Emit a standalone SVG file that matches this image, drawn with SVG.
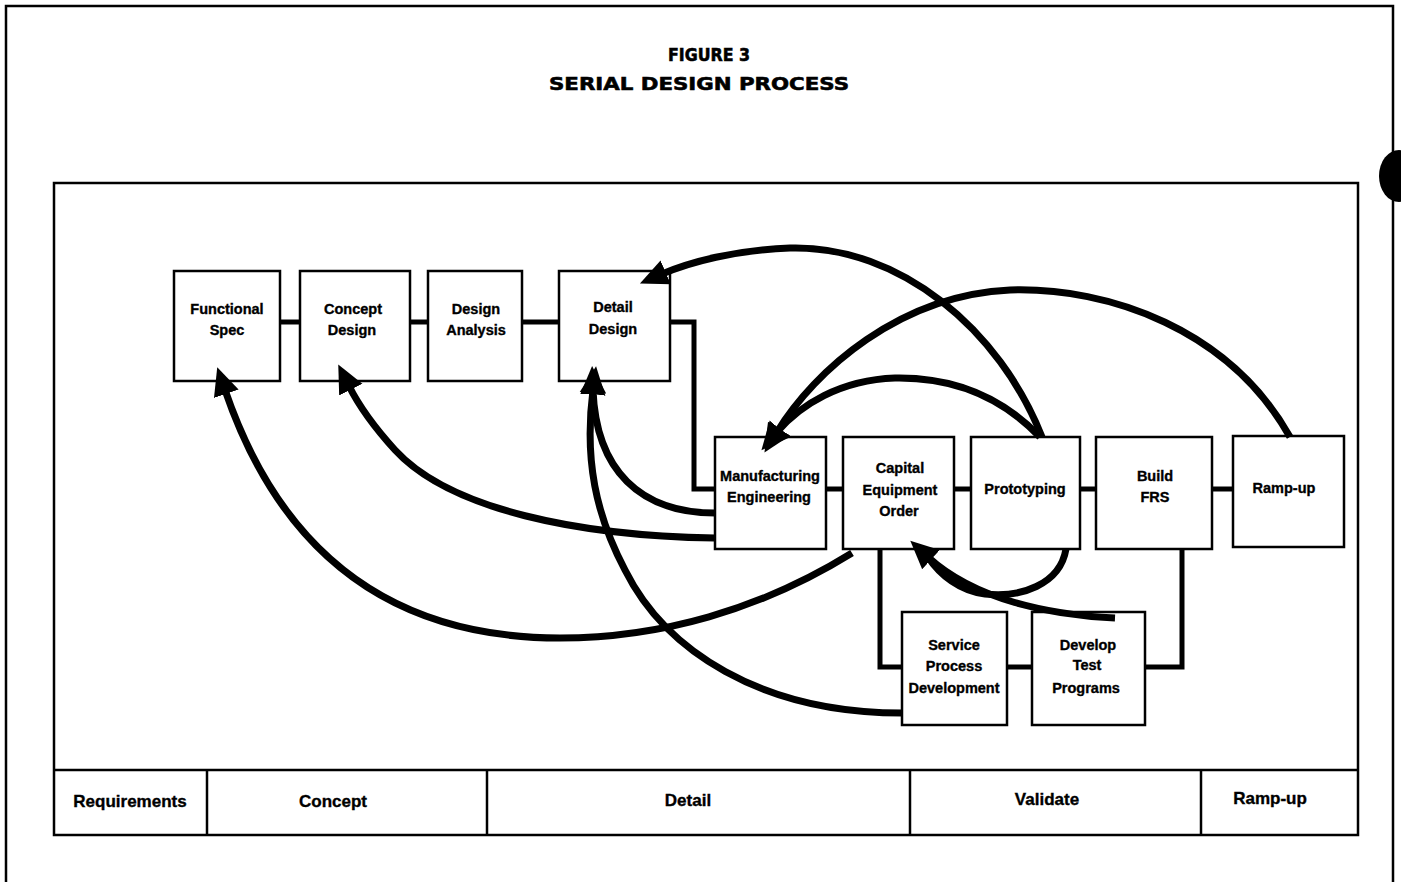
<svg xmlns="http://www.w3.org/2000/svg" width="1401" height="882" viewBox="0 0 1401 882">
<style>
.box{fill:#fff;stroke:#000;stroke-width:2.5}
.lbl{font-family:"Liberation Sans",Arial,sans-serif;font-weight:bold;font-size:14.5px;text-anchor:middle;fill:#000;stroke:#000;stroke-width:0.35}
.ph{font-family:"Liberation Sans",Arial,sans-serif;font-weight:bold;font-size:17px;text-anchor:middle;fill:#000;stroke:#000;stroke-width:0.35}
.ttl{font-family:"DejaVu Sans","Liberation Sans",Arial,sans-serif;font-weight:bold;font-size:18px;text-anchor:middle;fill:#000;stroke:#000;stroke-width:0.6}
.frame{fill:none;stroke:#000;stroke-width:2.5}
.link{fill:none;stroke:#000;stroke-width:5}
.arc{fill:none;stroke:#000;stroke-width:7;marker-end:url(#ah)}
.arcn{fill:none;stroke:#000;stroke-width:7}
</style>
<defs>
<marker id="ah" markerUnits="userSpaceOnUse" markerWidth="32" markerHeight="32" viewBox="0 0 32 32" refX="4" refY="16" orient="auto">
<path d="M0,3 L28,16 L0,29 z" fill="#000"/>
</marker>
</defs>
<rect width="1401" height="882" fill="#fff"/>
<path class="frame" d="M6 882 L6 6 L1393 6 L1393 882"/>
<ellipse cx="1399" cy="176" rx="20" ry="26" fill="#000"/>
<text class="ttl" x="709" y="61" textLength="82" lengthAdjust="spacingAndGlyphs">FIGURE 3</text>
<text class="ttl" x="699" y="90" textLength="300" lengthAdjust="spacingAndGlyphs">SERIAL DESIGN PROCESS</text>
<rect class="frame" x="54" y="183" width="1304" height="652"/>
<g id="phases">
<line class="frame" x1="54" y1="770" x2="1358" y2="770"/>
<line class="frame" x1="207" y1="770" x2="207" y2="835"/>
<line class="frame" x1="487" y1="770" x2="487" y2="835"/>
<line class="frame" x1="910" y1="770" x2="910" y2="835"/>
<line class="frame" x1="1201" y1="770" x2="1201" y2="835"/>
<text class="ph" x="130" y="807">Requirements</text>
<text class="ph" x="333" y="807">Concept</text>
<text class="ph" x="688" y="806">Detail</text>
<text class="ph" x="1047" y="805">Validate</text>
<text class="ph" x="1270" y="804">Ramp-up</text>
</g>
<g id="functional-spec"><rect class="box" x="174" y="271" width="106" height="110"/><text class="lbl" x="227" y="314">Functional</text><text class="lbl" x="227" y="335">Spec</text></g>
<g id="concept-design"><rect class="box" x="300" y="271" width="110" height="110"/><text class="lbl" x="353" y="314">Concept</text><text class="lbl" x="352" y="335">Design</text></g>
<g id="design-analysis"><rect class="box" x="428" y="271" width="94" height="110"/><text class="lbl" x="476" y="314">Design</text><text class="lbl" x="476" y="335">Analysis</text></g>
<g id="detail-design"><rect class="box" x="559" y="271" width="111" height="110"/><text class="lbl" x="613" y="312">Detail</text><text class="lbl" x="613" y="334">Design</text></g>
<g id="manufacturing-engineering"><rect class="box" x="715" y="437" width="111" height="112"/><text class="lbl" x="770" y="481">Manufacturing</text><text class="lbl" x="769" y="502">Engineering</text></g>
<g id="capital-equipment-order"><rect class="box" x="843" y="437" width="111" height="112"/><text class="lbl" x="900" y="473">Capital</text><text class="lbl" x="900" y="495">Equipment</text><text class="lbl" x="899" y="516">Order</text></g>
<g id="prototyping"><rect class="box" x="971" y="437" width="109" height="112"/><text class="lbl" x="1025" y="494">Prototyping</text></g>
<g id="build-frs"><rect class="box" x="1096" y="437" width="116" height="112"/><text class="lbl" x="1155" y="481">Build</text><text class="lbl" x="1155" y="502">FRS</text></g>
<g id="ramp-up"><rect class="box" x="1233" y="436" width="111" height="111"/><text class="lbl" x="1284" y="493">Ramp-up</text></g>
<g id="service-process-development"><rect class="box" x="902" y="612" width="105" height="113"/><text class="lbl" x="954" y="650">Service</text><text class="lbl" x="954" y="671">Process</text><text class="lbl" x="954" y="693">Development</text></g>
<g id="develop-test-programs"><rect class="box" x="1032" y="612" width="113" height="113"/><text class="lbl" x="1088" y="650">Develop</text><text class="lbl" x="1087" y="670">Test</text><text class="lbl" x="1086" y="693">Programs</text></g>
<g id="connectors">
<path class="link" d="M280 322 L300 322"/>
<path class="link" d="M410 322 L428 322"/>
<path class="link" d="M522 322 L559 322"/>
<path class="link" d="M670 322 L694 322 L694 489 L715 489"/>
<path class="link" d="M826 489 L843 489"/>
<path class="link" d="M954 489 L971 489"/>
<path class="link" d="M1080 489 L1096 489"/>
<path class="link" d="M1212 489 L1233 489"/>
<path class="link" d="M880 549 L880 667 L902 667"/>
<path class="link" d="M1007 667 L1032 667"/>
<path class="link" d="M1145 667 L1182 667 L1182 549"/>
<path class="arc" d="M1042 437 C1000 330 900 245 790 248 C735 250 690 262 662 274"/>
<path class="arc" d="M1040 437 C1000 395 950 377 895 378 C840 380 800 405 777 432"/>
<path class="arc" d="M1290 437 C1230 330 1110 287 1010 290 C900 295 815 370 777 432"/>
<path class="arc" d="M715 513 C640 513 596 470 593 390"/>
<path class="arc" d="M902 713 C760 713 665 650 625 570 C596 515 584 460 593 390"/>
<path class="arc" d="M715 538 C580 536 450 510 395 450 C375 428 360 408 349 386"/>
<path class="arc" d="M852 553 C760 610 660 638 560 638 C420 638 290 580 225 390"/>
<path class="arcn" d="M1066 549 C1060 585 1020 598 985 594 C960 591 940 575 928 557"/>
<path class="arc" d="M1115 618 C1050 615 975 600 928 557"/>
</g>
</svg>
